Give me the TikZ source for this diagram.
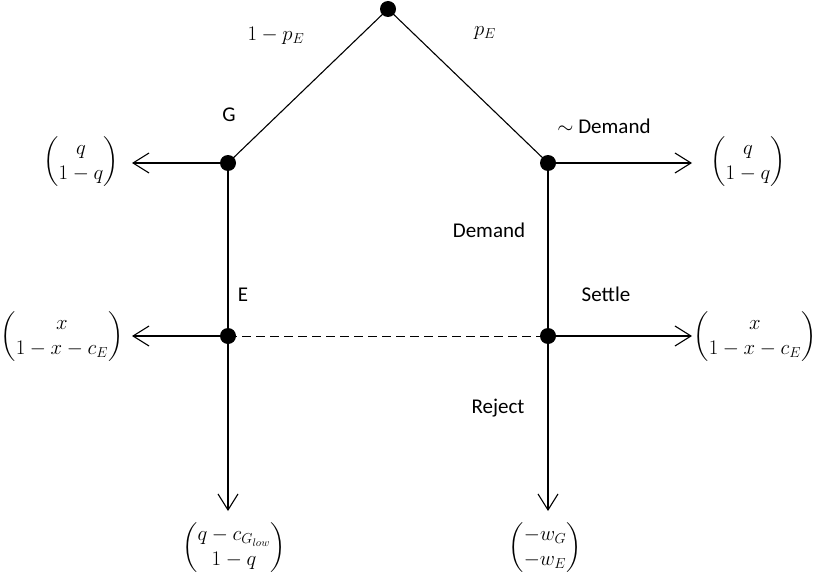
\documentclass[tikz,border=0pt]{standalone}
\usepackage{fontspec}
\usepackage{amsmath}
\setmainfont{Carlito}
\usetikzlibrary{arrows.meta}
\begin{document}
\begin{tikzpicture}[x=1pt,y=-1pt,
  dot/.style={circle,fill=black,inner sep=0pt,minimum size=16pt},
  edge/.style={line width=1.1pt},
  arr/.style={line width=1.1pt,-{Straight Barb[length=16pt,width=20pt,line width=1.1pt]}},
  lbl/.style={font=\fontsize{21}{24}\selectfont},
  pay/.style={font=\fontsize{21}{25}\selectfont}]
\useasboundingbox (0,0) rectangle (816,575);
\node[dot] (top) at (388,9) {};
\node[dot] (g) at (228,163) {};
\node[dot] (d) at (548,163) {};
\node[dot] (e) at (228,336) {};
\node[dot] (s) at (548,336) {};
\coordinate (gl) at (132,163);
\coordinate (dr) at (692,163);
\coordinate (el) at (132,336);
\coordinate (sr) at (692,336);
\coordinate (eb) at (228,511);
\coordinate (sb) at (548,511);
\draw[edge] (top.center) -- (g.center);
\draw[edge] (top.center) -- (d.center);
\draw[edge] (g.center) -- (e.center);
\draw[edge] (d.center) -- (s.center);
\draw[line width=0.8pt,dash pattern=on 9pt off 5pt] (e.center) -- (s.center);
\draw[arr] (g.center) -- (gl);
\draw[arr] (d.center) -- (dr);
\draw[arr] (e.center) -- (el);
\draw[arr] (s.center) -- (sr);
\draw[arr] (e.center) -- (eb);
\draw[arr] (s.center) -- (sb);
\node[pay] (l1) at (276,36) {$1-p_E$};
\node[pay] (l2) at (485,33) {$p_E$};
\node[lbl] (l3) at (229,115) {G};
\node[lbl] (l4) at (604,126) {$\sim$ Demand};
\node[lbl] (l5) at (489,230) {Demand};
\node[lbl] (l6) at (243,295) {E};
\node[lbl] (l7) at (606,294) {Settle};
\node[lbl] (l8) at (498,408) {Reject};
\node[pay] (p1) at (81,162) {$\begin{pmatrix} q\\ 1-q\end{pmatrix}$};
\node[pay] (p2) at (748,162) {$\begin{pmatrix} q\\ 1-q\end{pmatrix}$};
\node[pay] (p3) at (62,337) {$\begin{pmatrix} x\\ 1-x-c_E\end{pmatrix}$};
\node[pay] (p4) at (755,337) {$\begin{pmatrix} x\\ 1-x-c_E\end{pmatrix}$};
\node[pay] (p5) at (234,548) {$\begin{pmatrix} q-c_{G_{low}}\\ 1-q\end{pmatrix}$};
\node[pay] (p6) at (545,548) {$\begin{pmatrix} -w_G\\ -w_E\end{pmatrix}$};
\end{tikzpicture}
\end{document}
